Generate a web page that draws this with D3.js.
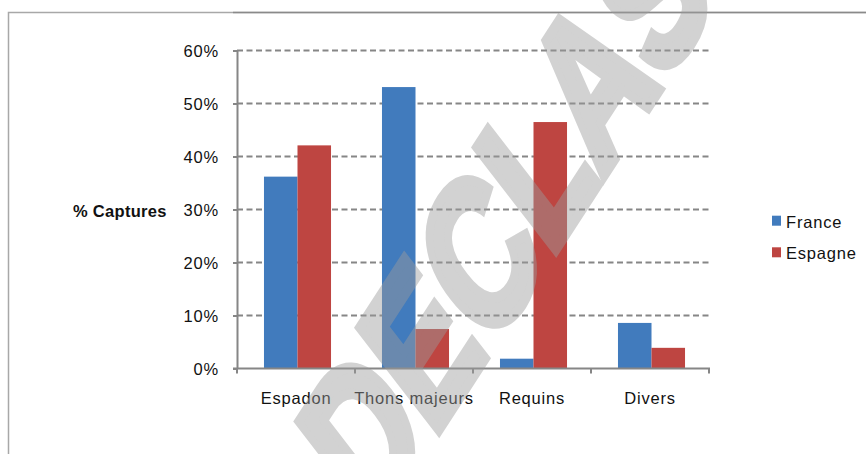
<!DOCTYPE html>
<html>
<head>
<meta charset="utf-8">
<script src="https://cdn.jsdelivr.net/npm/d3@7"></script>
<style>
  html, body { margin: 0; padding: 0; background: #fff; }
  svg { display: block; }
  text { font-family: "Liberation Sans", Arial, sans-serif; }
</style>
</head>
<body>
<svg id="chart" width="866" height="454"></svg>
<script>
// Share of catches by species group, per fleet
const categories = ["Espadon", "Thons majeurs", "Requins", "Divers"];
const seriesNames = ["France", "Espagne"];
const franceValues = [36.2, 53.1, 1.85, 8.6];
const espagneValues = [42.1, 7.45, 46.5, 3.9];
const yTickValues = [0, 10, 20, 30, 40, 50, 60];
const seriesColors = ["#417bbd", "#be4541"];
const axisTitle = "% Captures";
const watermarkText = "DECLASSIFIED";

const rows = categories.map((c, i) => ({
  category: c,
  values: [
    { series: seriesNames[0], value: franceValues[i] },
    { series: seriesNames[1], value: espagneValues[i] }
  ]
}));

const svg = d3.select("#chart");
const W = 866, H = 454;
const plot = { left: 237, right: 709, top: 50.5, bottom: 368.5 };

// outer frame
svg.append("path")
  .attr("d", `M8.5,${H} V12.5 H${W}`)
  .attr("fill", "none").attr("stroke", "#a8a8a8").attr("stroke-width", 1.5);
svg.append("line")
  .attr("x1", 233).attr("x2", W).attr("y1", 12.5).attr("y2", 12.5)
  .attr("stroke", "#8a8a8a").attr("stroke-width", 1.5);

const x0 = d3.scaleBand().domain(categories).range([plot.left, plot.right]).padding(0);
const x1 = d3.scaleBand().domain(seriesNames).range([0, x0.bandwidth()]).paddingInner(0).paddingOuter(0.76);
const y = d3.scaleLinear().domain([0, 60]).range([plot.bottom, plot.top]);
const color = d3.scaleOrdinal().domain(seriesNames).range(seriesColors);

// dashed gridlines
svg.append("g").selectAll("line")
  .data(yTickValues.filter(v => v > 0))
  .join("line")
  .attr("x1", plot.left).attr("x2", plot.right)
  .attr("y1", d => y(d)).attr("y2", d => y(d))
  .attr("stroke", "#868686").attr("stroke-width", 2)
  .attr("stroke-dasharray", "6,3.5");

// bars
const groups = svg.append("g").selectAll("g")
  .data(rows)
  .join("g")
  .attr("transform", d => `translate(${x0(d.category) + 1.5},0)`);

groups.selectAll("rect")
  .data(d => d.values)
  .join("rect")
  .attr("x", d => x1(d.series))
  .attr("y", d => y(d.value))
  .attr("width", x1.bandwidth())
  .attr("height", d => y(0) - y(d.value))
  .attr("fill", d => color(d.series));

// y axis
const yAxis = svg.append("g")
  .attr("transform", `translate(${plot.left},0)`)
  .call(d3.axisLeft(y).tickValues(yTickValues).tickFormat(d => d + "%").tickSize(4).tickSizeOuter(0).tickPadding(14));
yAxis.select(".domain").attr("stroke", "#868686").attr("stroke-width", 2);
yAxis.selectAll(".tick line").attr("stroke", "#868686").attr("stroke-width", 2);
yAxis.selectAll(".tick text")
  .attr("font-size", 16.5).attr("letter-spacing", 0.8)
  .attr("fill", "#111").attr("dy", "0.38em")
  .attr("font-family", "Liberation Sans, Arial, sans-serif");

// x axis: baseline with ticks at category boundaries
const xAxisG = svg.append("g");
xAxisG.append("line")
  .attr("x1", plot.left - 4).attr("x2", plot.right + 1)
  .attr("y1", y(0)).attr("y2", y(0))
  .attr("stroke", "#868686").attr("stroke-width", 2);
const boundaries = categories.map(c => x0(c)).concat([x0.range()[1]]);
xAxisG.selectAll("line.b")
  .data(boundaries)
  .join("line").attr("class", "b")
  .attr("x1", d => d).attr("x2", d => d)
  .attr("y1", y(0)).attr("y2", y(0) + 5)
  .attr("stroke", "#868686").attr("stroke-width", 2);
xAxisG.selectAll("text")
  .data(categories)
  .join("text")
  .attr("x", d => x0(d) + x0.bandwidth() / 2)
  .attr("y", 403.5)
  .attr("text-anchor", "middle")
  .attr("font-size", 16.5).attr("letter-spacing", 0.8)
  .attr("fill", "#111")
  .text(d => d);

// axis title
svg.append("text")
  .attr("x", 73).attr("y", 217)
  .attr("font-size", 16.5).attr("font-weight", "bold").attr("letter-spacing", 0.3)
  .attr("fill", "#111")
  .text(axisTitle);

// legend
const legend = svg.append("g").selectAll("g")
  .data(seriesNames)
  .join("g")
  .attr("transform", (d, i) => `translate(772,${215.7 + i * 31.6})`);
legend.append("rect")
  .attr("width", 9).attr("height", 10)
  .attr("fill", d => color(d));
legend.append("text")
  .attr("x", 14).attr("y", 12)
  .attr("font-size", 16.5).attr("letter-spacing", 0.8)
  .attr("fill", "#111")
  .text(d => d);

// watermark stamp across the chart: heavy condensed lettering, diagonal and squeezed horizontally
svg.append("g")
  .attr("opacity", 0.45)
  .append("text")
  .attr("transform", "translate(372,533) scale(0.708,1) rotate(-47.5) scale(0.8,1)")
  .attr("font-size", 220).attr("font-weight", "bold")
  .attr("fill", "#9c9c9c")
  .attr("stroke", "#9c9c9c").attr("stroke-width", 12).attr("stroke-linejoin", "miter")
  .text(watermarkText);
</script>
</body>
</html>
